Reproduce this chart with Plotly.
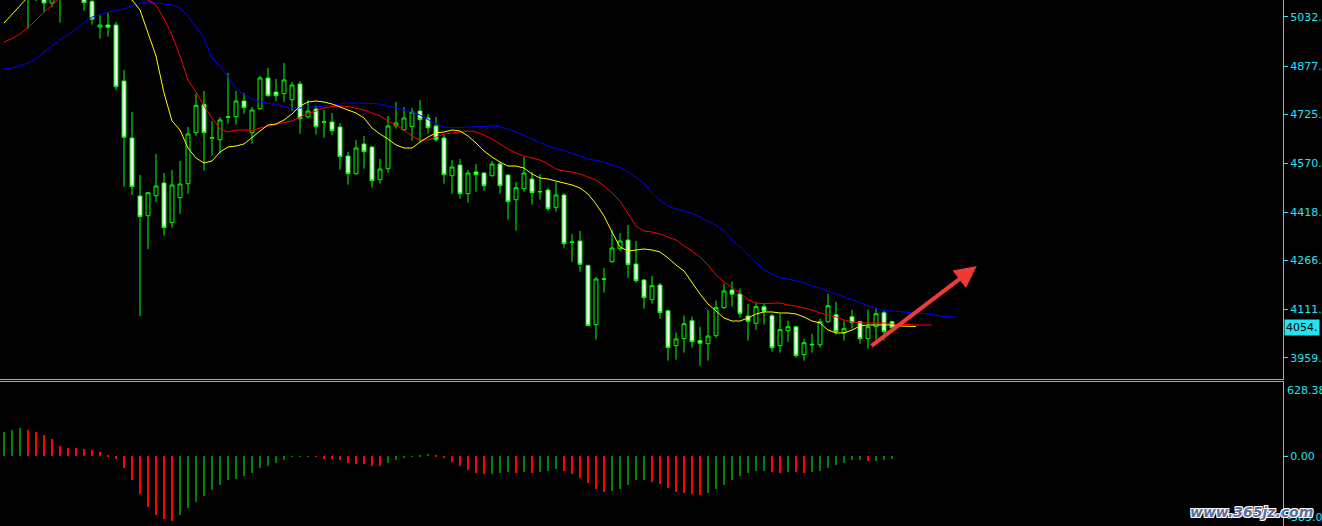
import plotly.graph_objects as go

# ---------------- data ----------------
open_ = [5110, 5120, 5105, 5110, 5100, 5105, 5076.1, 5095, 5100, 5115,
         5100, 5081.4, 5000.5, 5006.8, 5006.8, 4830.6, 4651.3, 4468.8, 4406.8, 4469.7,
         4509.7, 4384.7, 4463.4, 4507.5, 4667.9, 4757.3, 4651.0, 4645.9, 4716.0, 4718.3,
         4767.7, 4667.9, 4743.5, 4840.1, 4796.0, 4790.7, 4771.8, 4821.2, 4718.3, 4742.5,
         4702.0, 4701.6, 4685.9, 4594.6, 4538.9, 4632.4, 4622.9, 4520.1, 4554.7, 4690.0,
         4677.4, 4686.8, 4736.2, 4714.2, 4689.0, 4651.3, 4532.6, 4566.3, 4476.0, 4544.3,
         4541.1, 4532.6, 4569.5, 4534.8, 4457.1, 4491.7, 4522.3, 4483.0, 4487.6, 4433.2,
         4471.9, 4324.0, 4327.2, 4250.7, 4063.8, 4208.0, 4262.0, 4302.9, 4330.3, 4254.8,
         4204.5, 4142.5, 4188.7, 4107.8, 3997.7, 4019.7, 4076.4, 4013.5, 4004.0, 4029.2,
         4117.3, 4173.0, 4160.4, 4091.2, 4068.2, 4120.4, 4092.1, 3997.7, 4044.9, 4057.5,
         3969.4, 4000.0, 4000.9, 4073.2, 4095.3, 4038.6, 4089.0, 4073.2, 4019.7, 4057.5,
         4101.6, 4073.2]
high = [5130, 5140, 5125, 5125, 5118, 5120, 5110, 5115, 5125, 5130,
        5112, 5095, 5038.3, 5045.5, 5016.3, 4865.2, 4733.1, 4534.8, 4481.4, 4600.9,
        4541.1, 4550.6, 4578.9, 4685.9, 4791.9, 4799.2, 4704.8, 4717.4, 4855.8, 4799.2,
        4792.9, 4748.8, 4846.3, 4871.5, 4836.9, 4887.3, 4827.5, 4830.6, 4770.8, 4752.0,
        4739.4, 4729.9, 4698.5, 4607.2, 4645.0, 4657.6, 4626.1, 4585.2, 4720.5, 4764.5,
        4748.8, 4745.7, 4770.8, 4726.8, 4717.4, 4660.7, 4582.0, 4585.2, 4550.6, 4569.5,
        4544.3, 4578.9, 4575.7, 4536.0, 4512.8, 4591.5, 4544.3, 4538.0, 4493.9, 4512.8,
        4478.2, 4349.2, 4358.6, 4251.6, 4213.9, 4242.2, 4361.8, 4352.4, 4377.5, 4327.2,
        4207.6, 4217.0, 4195.0, 4111.0, 4038.6, 4092.1, 4088.9, 4057.5, 4111.0, 4139.3,
        4192.8, 4199.1, 4177.1, 4129.9, 4133.0, 4129.9, 4098.4, 4098.4, 4076.4, 4060.7,
        4019.7, 4035.5, 4082.7, 4161.3, 4136.2, 4076.4, 4111.0, 4074.0, 4111.0, 4117.3,
        4107.8, 4076.4]
low = [5095, 5100, 5092, 4995.2, 5082.4, 5047.7, 5062.5, 5014.1, 5090, 5092,
       5051.8, 5007.8, 4963.7, 4970.0, 4802.3, 4498.0, 4471.9, 4091.2, 4301.1, 4450.8,
       4343.9, 4369.0, 4413.1, 4476.0, 4658.5, 4548.4, 4595.6, 4601.9, 4696.3, 4693.1,
       4727.7, 4633.3, 4740.3, 4781.2, 4768.6, 4765.5, 4737.2, 4664.8, 4712.0, 4661.6,
       4652.2, 4661.6, 4551.5, 4504.3, 4535.8, 4554.7, 4494.9, 4507.5, 4542.1, 4680.5,
       4674.2, 4642.8, 4636.5, 4664.8, 4639.6, 4507.5, 4476.0, 4460.3, 4447.7, 4482.3,
       4485.4, 4529.5, 4476.0, 4394.2, 4359.6, 4482.3, 4441.4, 4457.1, 4422.5, 4419.4,
       4306.1, 4262.0, 4230.5, 4059.7, 4016.6, 4164.5, 4258.9, 4296.6, 4211.7, 4196.0,
       4114.1, 4129.9, 4082.7, 3950.5, 3953.7, 3975.7, 3991.4, 3934.8, 3950.5, 4022.9,
       4114.1, 4120.4, 4085.8, 4013.5, 4048.1, 4063.8, 3978.8, 3975.7, 4010.3, 3959.9,
       3950.5, 3975.7, 3991.4, 4070.1, 4032.3, 4013.5, 4051.2, 4004.0, 3988.3, 4016.6,
       4013.5, 4038.6]
close = [5120, 5105, 5115, 5100, 5110, 5076.1, 5095, 5100, 5115, 5105,
         5077.0, 5024.8, 5006.8, 4999.6, 4812.7, 4653.5, 4498.0, 4403.6, 4479.1, 4500.2,
         4369.0, 4503.4, 4506.5, 4663.9, 4754.2, 4667.9, 4652.0, 4707.9, 4718.0, 4767.7,
         4746.6, 4739.4, 4840.1, 4784.4, 4784.4, 4833.8, 4818.0, 4712.0, 4736.2, 4686.8,
         4701.0, 4674.2, 4592.4, 4538.9, 4619.8, 4608.2, 4516.9, 4553.7, 4689.0, 4698.5,
         4714.2, 4733.1, 4708.8, 4683.7, 4645.9, 4535.8, 4560.0, 4476.0, 4541.1, 4535.8,
         4501.2, 4569.5, 4501.2, 4450.8, 4494.9, 4541.1, 4479.1, 4482.0, 4428.8, 4471.9,
         4318.7, 4323.0, 4253.9, 4060.7, 4207.6, 4207.0, 4305.1, 4327.2, 4252.6, 4202.2,
         4148.8, 4186.5, 4101.6, 3991.4, 4018.8, 4066.9, 4010.3, 4005.3, 4028.2, 4117.3,
         4169.8, 4159.4, 4098.4, 4074.5, 4120.4, 4105.9, 3991.4, 4048.1, 4057.5, 3966.3,
         4007.2, 4002.0, 4073.2, 4123.6, 4041.8, 4051.2, 4070.1, 4019.7, 4057.5, 4098.4,
         4041.8, 4054.0]

# Alligator lines (lips shifted 3 bars, teeth 5, jaw 8)
lips_yellow = [5013, 5041.4, 5069.8, 5095, 5105, 5110, 5115, 5118, 5120, 5120,
               5118, 5115, 5112, 5108, 5102, 5094, 5086, 5054.0, 4981.7, 4909.3,
               4792.9, 4704.8, 4676.4, 4619.8, 4588.3, 4572.6, 4578.9, 4607.2, 4623.0, 4626.1,
               4632.4, 4654.4, 4673.3, 4692.2, 4695.3, 4707.9, 4726.8, 4752.0, 4764.5, 4767.7,
               4764.5, 4758.3, 4748.8, 4739.4, 4730.0, 4714.2, 4682.7, 4663.8, 4648.1, 4629.3,
               4619.8, 4619.8, 4638.7, 4654.4, 4667.0, 4670.2, 4676.4, 4673.3, 4657.6, 4635.5,
               4610.4, 4591.5, 4575.7, 4563.1, 4563.1, 4556.9, 4538.0, 4525.4, 4522.2, 4515.9,
               4509.7, 4503.4, 4493.9, 4475.0, 4443.6, 4405.8, 4355.5, 4308.3, 4295.7, 4298.9,
               4302.0, 4298.9, 4292.6, 4273.7, 4251.6, 4232.8, 4195.0, 4160.4, 4128.9, 4106.9,
               4084.9, 4075.4, 4075.4, 4084.9, 4097.5, 4103.8, 4103.8, 4100.6, 4100.6, 4097.5,
               4088.0, 4075.4, 4069.2, 4047.1, 4037.7, 4037.7, 4047.1, 4059.7, 4062.9, 4062.9,
               4062.9, 4062.9, 4059.7, 4059.7, 4058.2]
teeth_red = [4953.3, 4964.4, 4978.5, 4999.0, 5022.6, 5047.7, 5068.2, 5095, 5105, 5112,
             5118, 5122, 5124, 5122, 5118, 5110, 5100, 5090, 5085.5, 5069.8,
             5025.7, 4975.4, 4909.3, 4833.8, 4796.0, 4752.0, 4714.2, 4679.6, 4670.2, 4676.4,
             4676.4, 4674.9, 4682.7, 4689.0, 4693.7, 4700.0, 4704.8, 4717.4, 4728.4, 4736.2,
             4745.7, 4750.4, 4751.9, 4750.4, 4745.7, 4739.4, 4729.9, 4720.5, 4704.8, 4692.2,
             4676.4, 4657.6, 4645.0, 4645.0, 4654.4, 4663.8, 4667.0, 4670.2, 4673.3, 4670.2,
             4660.7, 4648.1, 4632.4, 4616.6, 4604.1, 4594.6, 4588.3, 4582.0, 4569.5, 4553.7,
             4547.4, 4544.3, 4538.0, 4528.6, 4519.1, 4500.2, 4478.2, 4453.0, 4415.3, 4374.4,
             4358.6, 4355.5, 4349.2, 4339.7, 4330.3, 4311.4, 4295.7, 4276.8, 4251.6, 4220.2,
             4198.2, 4182.4, 4163.5, 4141.5, 4132.1, 4130.5, 4132.1, 4132.1, 4125.8, 4122.6,
             4116.4, 4110.0, 4100.6, 4094.3, 4088.0, 4078.6, 4072.3, 4069.2, 4069.2, 4069.2,
             4069.2, 4066.0, 4066.0, 4064.4, 4062.9, 4062.9, 4062.9]
jaw_blue = [4868.4, 4871.5, 4877.8, 4887.3, 4899.9, 4921.9, 4940.7, 4959.6, 4975.4, 4994.3,
            5016.3, 5032.0, 5038.3, 5047.7, 5052.5, 5057.2, 5066.6, 5076.1, 5079.2, 5076.1,
            5074.5, 5069.8, 5060.3, 5033.6, 5000.5, 4964.4, 4903.0, 4877.8, 4843.2, 4805.4,
            4788.2, 4774.0, 4764.5, 4761.4, 4756.7, 4750.4, 4745.7, 4745.7, 4748.8, 4748.8,
            4751.9, 4755.1, 4759.8, 4761.4, 4761.4, 4761.4, 4759.8, 4758.3, 4751.9, 4747.2,
            4741.0, 4733.1, 4723.6, 4709.5, 4695.3, 4685.9, 4682.7, 4684.3, 4685.9, 4687.5,
            4689.0, 4689.0, 4687.5, 4679.6, 4670.2, 4659.1, 4648.1, 4637.1, 4626.1, 4618.2,
            4611.9, 4602.5, 4593.0, 4585.2, 4580.5, 4575.7, 4566.3, 4558.4, 4544.3, 4527.0,
            4508.1, 4478.2, 4454.6, 4437.3, 4427.9, 4421.6, 4413.7, 4402.7, 4390.1, 4375.9,
            4358.6, 4330.3, 4308.3, 4283.1, 4258.0, 4236.0, 4223.3, 4210.7, 4207.6, 4202.9,
            4196.6, 4185.6, 4179.3, 4169.8, 4160.4, 4152.5, 4143.1, 4132.1, 4122.6, 4114.8,
            4108.5, 4106.9, 4103.8, 4102.2, 4100.6, 4099.0, 4095.9, 4091.2, 4089.6, 4088.0]

# Oscillator histogram
osc = [205, 222, 239, 222, 205, 180, 146, 87, 70, 68,
       62, 53, 36, 11, -23, -99, -200, -319, -429, -496,
       -530, -547, -496, -437, -386, -336, -285, -243, -200, -192,
       -167, -141, -99, -82, -57, -31, -3, -2, 1, -3,
       -23, -25, -31, -57, -65, -67, -82, -84, -57, -31,
       -14, -1, 11, 19, 3, -8, -48, -82, -116, -141,
       -150, -148, -141, -133, -141, -133, -141, -133, -124, -107,
       -124, -150, -183, -226, -276, -302, -293, -276, -243, -200,
       -199, -217, -234, -268, -302, -310, -319, -327, -310, -276,
       -243, -200, -167, -141, -124, -123, -133, -141, -133, -134,
       -141, -133, -124, -99, -74, -57, -31, -30, -40, -38,
       -31, -23]

price_ticks = [5032.5, 4877.8, 4725.3, 4570.6, 4418.1, 4266.0, 4111.3, 3959.0]
price_tick_text = ["5032.", "4877.", "4725.", "4570.", "4418.", "4266.", "4111.", "3959."]
osc_max, osc_min = 628.38, -589.0
last_price = 4054.0
arrow_from = (108.25, 3993.6)
arrow_to = (121.6, 4248.5)

# ---------------- figure ----------------
CYAN = "#22E4F0"
FONT = "DejaVu Sans"
n = len(close)
bars = list(range(n))

fig = go.Figure()

fig.add_trace(go.Scatter(x=list(range(len(jaw_blue))), y=jaw_blue, mode="lines",
                         line=dict(color="#0000FF", width=1), hoverinfo="skip"))
fig.add_trace(go.Scatter(x=list(range(len(teeth_red))), y=teeth_red, mode="lines",
                         line=dict(color="#FF0000", width=1), hoverinfo="skip"))
fig.add_trace(go.Scatter(x=list(range(len(lips_yellow))), y=lips_yellow, mode="lines",
                         line=dict(color="#FFFF00", width=1), hoverinfo="skip"))

fig.add_trace(go.Candlestick(
    x=bars, open=open_, high=high, low=low, close=close,
    increasing=dict(line=dict(color="#00FF00", width=1), fillcolor="#000000"),
    decreasing=dict(line=dict(color="#00FF00", width=1), fillcolor="#FFFFFF"),
    whiskerwidth=0, hoverinfo="skip"))

osc_colors = ["#008000"]
for i in range(1, len(osc)):
    osc_colors.append("#008000" if osc[i] > osc[i - 1] else "#FF0000")

fig.add_trace(go.Bar(x=list(range(len(osc))), y=osc, marker=dict(color=osc_colors, line=dict(width=0)),
                     width=0.13, xaxis="x2", yaxis="y2", hoverinfo="skip"))

W, H = 1322, 526
main_bottom = 379
sub_top = 382
xr = [-0.5, 159.875]

fig.update_layout(
    width=W, height=H,
    paper_bgcolor="#000000", plot_bgcolor="#000000",
    margin=dict(l=0, r=39, t=0, b=0),
    showlegend=False,
    bargap=0,
    xaxis=dict(domain=[0, 1], range=xr, anchor="y", showgrid=False, zeroline=False,
               showticklabels=False, ticks="", showline=True, linecolor=CYAN, linewidth=1,
               rangeslider=dict(visible=False), fixedrange=True),
    yaxis=dict(domain=[1 - main_bottom / H, 1], range=[3892.9, 5085.5], side="right",
               showgrid=False, zeroline=False, showline=True, linecolor=CYAN, linewidth=1,
               ticks="outside", ticklen=4, tickcolor=CYAN,
               tickvals=price_ticks, ticktext=price_tick_text,
               tickfont=dict(family=FONT, size=11, color=CYAN)),
    xaxis2=dict(domain=[0, 1], range=xr, anchor="y2", side="top", showgrid=False, zeroline=False,
                showticklabels=False, ticks="", showline=True, linecolor=CYAN, linewidth=1),
    yaxis2=dict(domain=[0, 1 - sub_top / H], range=[osc_min, osc_max], side="right", anchor="x2",
                showgrid=False, zeroline=False, showline=True, linecolor=CYAN, linewidth=1,
                ticks="outside", ticklen=4, tickcolor=CYAN,
                tickvals=[0], ticktext=["0.00"],
                tickfont=dict(family=FONT, size=11, color=CYAN)),
)

annotations = [
    dict(xref="paper", yref="y2", x=1, y=osc_max, xanchor="left", yanchor="top", xshift=2,
         text=f"{osc_max:.2f}", showarrow=False, font=dict(family=FONT, size=11, color=CYAN)),
    dict(xref="paper", yref="y2", x=1, y=osc_min, xanchor="left", yanchor="bottom", xshift=2,
         text=f"{osc_min:.1f}", showarrow=False, font=dict(family=FONT, size=11, color=CYAN)),
    dict(xref="paper", yref="y", x=1, y=last_price, xanchor="left", yanchor="middle", xshift=1,
         text=f"{last_price:.0f}.", showarrow=False, bgcolor=CYAN, borderpad=1,
         font=dict(family=FONT, size=11, color="#000000")),
    dict(xref="x", yref="y", x=arrow_to[0], y=arrow_to[1], axref="x", ayref="y",
         ax=arrow_from[0], ay=arrow_from[1], text="", showarrow=True,
         arrowhead=2, arrowsize=1.1, arrowwidth=4, arrowcolor="#F03A3A"),
    dict(xref="paper", yref="paper", x=1.025, y=0.0, xanchor="right", yanchor="bottom", yshift=4,
         text="www.365jz.com", showarrow=False,
         font=dict(family=FONT, size=14, color="#5B6F9C", style="italic", weight="bold",
                   shadow="1px 1px 0 #fff, -1px -1px 0 #fff, 1px -1px 0 #fff, -1px 1px 0 #fff")),
]
fig.update_layout(annotations=annotations)

fig.write_html("out.html", config={"displayModeBar": False},
               post_script="document.body.style.margin='0';document.body.style.overflow='hidden';")
